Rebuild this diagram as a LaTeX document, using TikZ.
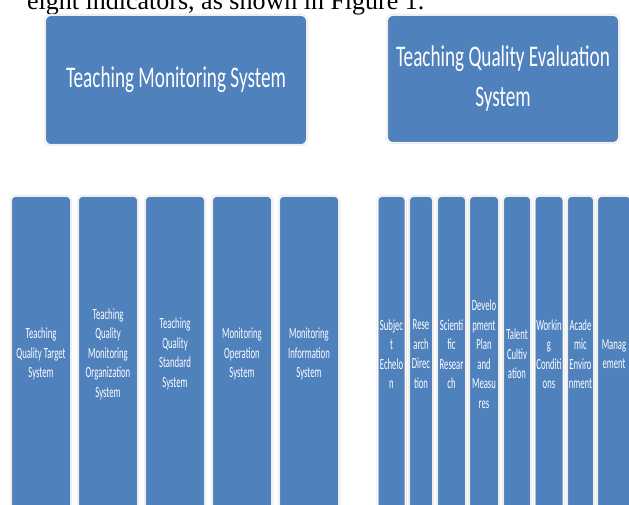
\documentclass[tikz,border=0pt]{standalone}
\usepackage{fontspec}
\setmainfont{Liberation Serif}
\newfontfamily\headfont[FakeStretch=0.64]{Carlito}
\newfontfamily\partfont[FakeStretch=0.56]{Carlito}
\definecolor{boxblue}{RGB}{79,129,189}
\definecolor{rim}{RGB}{212,212,212}
\tikzset{
  panel/.style={fill=boxblue, draw=rim, double=white, double distance=1.2pt, line width=0.4pt,
    text=white, align=center, inner sep=0pt},
  system/.style={panel, rounded corners=6pt, font=\headfont\fontsize{30}{40}\selectfont},
  part/.style={panel, rounded corners=4pt, minimum height=316pt, font=\partfont\fontsize{15.5}{19.5}\selectfont},
  lead/.style={anchor=base west, inner sep=0pt, font=\fontsize{26}{30}\selectfont},
}

\begin{document}
\begin{tikzpicture}[x=1pt, y=-1pt]
  \clip (0,0) rectangle (629,505);
  % the line of running text that ends just above the figure
  \node[lead] (lead) at (27,10) {eight indicators, as shown in Figure 1.};

  % the two systems
  \node[system, minimum width=262pt, minimum height=130pt] (monitor) at (176,80) {Teaching Monitoring System};
  \node[system, minimum width=232pt, minimum height=128pt] (evaluate) at (503,79) {Teaching Quality Evaluation\\System};

  % parts of the monitoring system
  \node[part, minimum width=60pt] (target)  at (41,354)  {Teaching\\Quality Target\\System};
  \node[part, minimum width=60pt] (organ)   at (108,354) {Teaching\\Quality\\Monitoring\\Organization\\System};
  \node[part, minimum width=60pt] (standard) at (175,354) {Teaching\\Quality\\Standard\\System};
  \node[part, minimum width=60pt] (operate) at (242,354) {Monitoring\\Operation\\System};
  \node[part, minimum width=60pt] (inform)  at (309,354) {Monitoring\\Information\\System};

  % the eight indicators of the evaluation system
  \node[part, minimum width=28pt] (echelon)  at (391.5,354) {Subjec\\t\\Echelo\\n};
  \node[part, minimum width=24pt] (direct)   at (421,354)   {Rese\\arch\\Direc\\tion};
  \node[part, minimum width=29pt] (science)  at (451.5,354) {Scienti\\fic\\Resear\\ch};
  \node[part, minimum width=30pt] (plan)     at (484,354)   {Develo\\pment\\Plan\\and\\Measu\\res};
  \node[part, minimum width=28pt] (talent)   at (517,354)   {Talent\\Cultiv\\ation};
  \node[part, minimum width=29pt] (work)     at (549,354)   {Workin\\g\\Conditi\\ons};
  \node[part, minimum width=27pt] (academic) at (580.5,354) {Acade\\mic\\Enviro\\nment};
  \node[part, minimum width=34pt] (manage)   at (614,354)   {Manag\\ement};
\end{tikzpicture}
\end{document}
